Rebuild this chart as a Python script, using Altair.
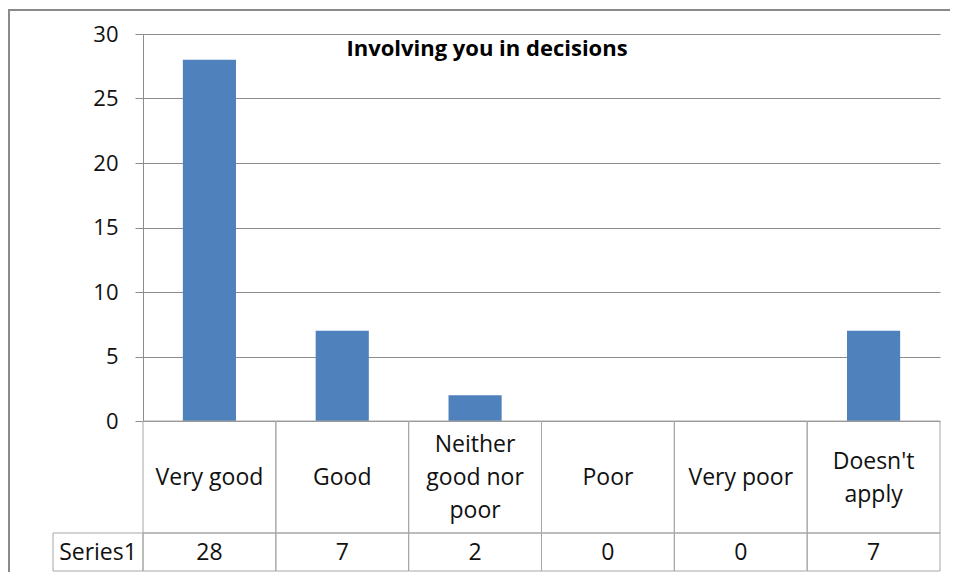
import altair as alt
import pandas as pd

categories = ["Very good", "Good", "Neither good nor poor", "Poor", "Very poor", "Doesn't apply"]
category_labels = ["Very good", "Good", "Neither\ngood nor\npoor", "Poor", "Very poor", "Doesn't\napply"]
values = [28, 7, 2, 0, 0, 7]
series_name = "Series1"
title_text = "Involving you in decisions"
y_ticks = [0, 5, 10, 15, 20, 25, 30]

df = pd.DataFrame({"cat": categories, "label": category_labels, "value": values})
df["vtext"] = df["value"].astype(str)
df["nlines"] = df["label"].str.count("\n") + 1
one = pd.DataFrame({"t": [title_text], "s": [series_name]})

FONT = "Open Sans"
GRID = "#8c8c8c"
TABLE = "#a6a6a6"
TXT = 23
LH = 33

xenc = alt.X("cat:N", sort=categories, axis=None,
             scale=alt.Scale(paddingInner=0, paddingOuter=0))

border = alt.Chart(one).mark_rect(filled=False, stroke="#8a8a8a", strokeWidth=2).encode(
    x=alt.value(-134), x2=alt.value(830), y=alt.value(-24), y2=alt.value(560)
)

bars = alt.Chart(df).mark_bar(color="#4f81bd", width=alt.RelativeBandSize(0.4)).encode(
    x=xenc,
    y=alt.Y("value:Q", title=None,
            scale=alt.Scale(domain=[0, 30], nice=False),
            axis=alt.Axis(values=y_ticks, grid=True, gridColor=GRID, gridWidth=1,
                          domainColor=GRID, tickColor=GRID, tickSize=8,
                          labelFontSize=22, labelFont=FONT, labelColor="#111",
                          labelPadding=17)),
)

cat_cells = alt.Chart(df).mark_rect(fill="white", fillOpacity=0, stroke=TABLE, strokeWidth=1).encode(
    x=xenc, y=alt.value(387), y2=alt.value(499)
)
val_cells = alt.Chart(df).mark_rect(fill="white", fillOpacity=0, stroke=TABLE, strokeWidth=1).encode(
    x=xenc, y=alt.value(499), y2=alt.value(537)
)
series_cell = alt.Chart(one).mark_rect(fill="white", fillOpacity=0, stroke=TABLE, strokeWidth=1).encode(
    x=alt.value(-90), x2=alt.value(0), y=alt.value(499), y2=alt.value(537)
)

cat_texts = []
for n in (1, 2, 3):
    cat_texts.append(
        alt.Chart(df).transform_filter(alt.datum.nlines == n).mark_text(
            font=FONT, fontSize=TXT, color="#111", lineBreak="\n",
            lineHeight=LH, baseline="middle", align="center").encode(
            x=xenc, y=alt.value(444 - (n - 1) * LH / 2), text="label:N")
    )

val_text = alt.Chart(df).mark_text(font=FONT, fontSize=TXT, color="#111",
                                   baseline="middle", align="center").encode(
    x=xenc, y=alt.value(519), text="vtext:N"
)
series_text = alt.Chart(one).mark_text(font=FONT, fontSize=TXT, color="#111",
                                       baseline="middle", align="center").encode(
    x=alt.value(-45), y=alt.value(519), text="s:N"
)
title = alt.Chart(one).mark_text(font=FONT, fontSize=22, fontWeight="bold", color="#000",
                                 baseline="middle", align="center").encode(
    x=alt.value(344), y=alt.value(15), text="t:N"
)

chart = alt.layer(border, bars, cat_cells, val_cells, series_cell,
                  *cat_texts, val_text, series_text, title).properties(
    width=797, height=387,
    autosize=alt.AutoSizeParams(type="none"),
    padding={"left": 135, "top": 26, "right": 10, "bottom": 151},
    background="white",
).configure_view(stroke=None)

chart.save("out.html", embed_options={"renderer": "svg", "actions": False})
